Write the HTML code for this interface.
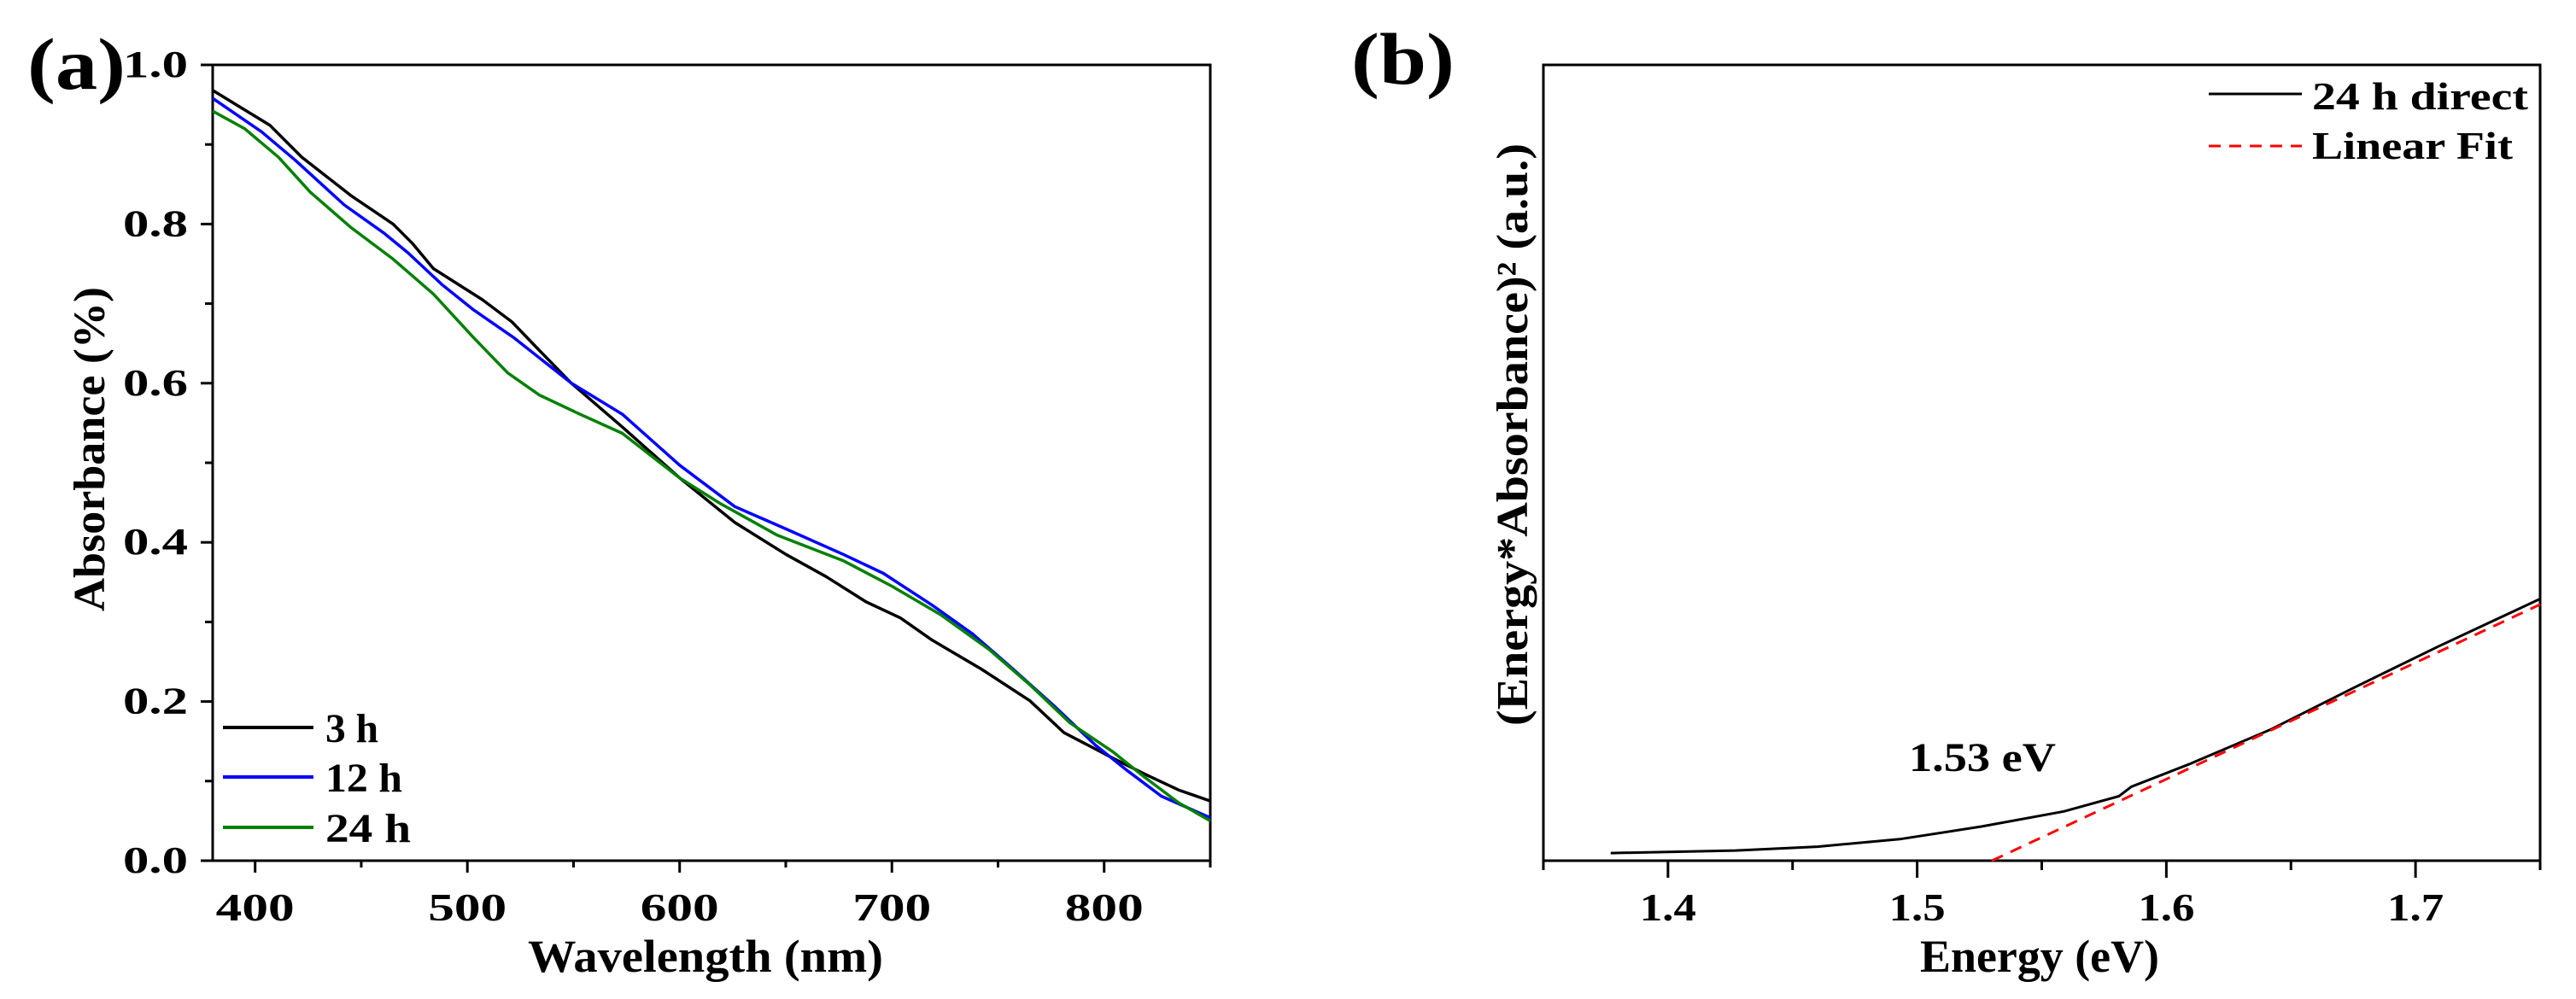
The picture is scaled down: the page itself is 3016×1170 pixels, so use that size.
<!DOCTYPE html>
<html><head><meta charset="utf-8"><style>
html,body{margin:0;padding:0;background:#fff;}
svg{display:block;font-family:"Liberation Serif",serif;font-weight:bold;}
</style></head><body>
<svg id="fig" width="3016" height="1170" viewBox="0 0 3016 1170" xmlns="http://www.w3.org/2000/svg">
<rect width="3016" height="1170" fill="#fff"/>
<g id="pa"></g>
<g id="pb"></g>
</svg>
<script>
// Panel (a) data
const aX3 = [380,407,422,445,465,474,484,507,521,534,549,573,600,626,650,669,688,704,719,742,765,781,804,819,835,850];
const aY3 = [0.968,0.924,0.884,0.836,0.800,0.776,0.744,0.705,0.677,0.641,0.600,0.545,0.481,0.425,0.385,0.357,0.325,0.305,0.277,0.241,0.201,0.161,0.129,0.109,0.089,0.075];
const aX12 = [380,403,419,442,461,472,488,503,522,549,573,600,626,650,677,696,719,738,757,777,796,811,827,850];
const aY12 = [0.958,0.916,0.880,0.824,0.788,0.764,0.724,0.692,0.657,0.600,0.561,0.497,0.445,0.417,0.385,0.361,0.321,0.285,0.241,0.193,0.145,0.113,0.081,0.054];
const aX24 = [380,395,411,426,445,465,484,503,519,534,553,573,600,619,646,677,700,723,746,765,784,804,819,835,850];
const aY24 = [0.942,0.920,0.884,0.840,0.796,0.756,0.712,0.657,0.613,0.585,0.561,0.537,0.481,0.449,0.409,0.377,0.345,0.309,0.265,0.221,0.173,0.137,0.105,0.073,0.050];
const aXTicks = [400,500,600,700,800];
const aYTicks = [0.0,0.2,0.4,0.6,0.8,1.0];
const aYTickLabels = ["0.0","0.2","0.4","0.6","0.8","1.0"];
const aSeriesNames = ["3 h","12 h","24 h"];
// Panel (b) data
const bX = [1.377,1.427,1.460,1.493,1.526,1.559,1.581,1.586,1.609,1.642,1.675,1.709,1.750];
const bY = [0.96,1.28,1.76,2.7,4.3,6.2,8.1,9.3,12.1,16.5,21.7,26.9,32.9];
const fitX = [1.53,1.75];
const fitY = [0,32.2];
const bXTicks = [1.4,1.5,1.6,1.7];
const bXTickLabels = ["1.4","1.5","1.6","1.7"];
const gapLabel = "1.53 eV";

const NS="http://www.w3.org/2000/svg";
function mk(parent,tag,attrs,text){const e=document.createElementNS(NS,tag);for(const k in attrs)e.setAttribute(k,attrs[k]);if(text!==undefined)e.textContent=text;parent.appendChild(e);return e;}
const fit=(w)=>({textLength:w,lengthAdjust:'spacingAndGlyphs'});

// ---------- Panel A ----------
const pa=document.getElementById('pa');
const A={l:249,r:1417,t:76,b:1008,x0:380,x1:850,y0:0,y1:1};
const ax=v=>A.l+(v-A.x0)/(A.x1-A.x0)*(A.r-A.l);
const ay=v=>A.b-(v-A.y0)/(A.y1-A.y0)*(A.b-A.t);
let e;
e=mk(pa,'text',Object.assign({x:32,y:104,'font-size':86},fit(115)),'(a)');


e=mk(pa,'rect',{x:A.l,y:A.t,width:A.r-A.l,height:A.b-A.t,fill:'none',stroke:'#000','stroke-width':3});


aXTicks.forEach(v=>{
  const x=ax(v);
  e=mk(pa,'line',{x1:x,y1:A.b,x2:x,y2:A.b+14,stroke:'#000','stroke-width':3});
  
  
  e=mk(pa,'text',Object.assign({x:x-46,y:1078,'font-size':46},fit(92)),String(v));
  
  
});
for(let v=450;v<=850;v+=100){const x=ax(v);e=mk(pa,'line',{x1:x,y1:A.b,x2:x,y2:A.b+8,stroke:'#000','stroke-width':3});

}
aYTicks.forEach((v,i)=>{
  const y=ay(v);
  e=mk(pa,'line',{x1:A.l-14,y1:y,x2:A.l,y2:y,stroke:'#000','stroke-width':3});
  
  
  e=mk(pa,'text',Object.assign({x:144,y:y+14,'font-size':44},fit(76)),aYTickLabels[i]);
  
  
});
for(let v=0.1;v<1;v+=0.2){const y=ay(v);e=mk(pa,'line',{x1:A.l-9,y1:y,x2:A.l,y2:y,stroke:'#000','stroke-width':3});

}
e=mk(pa,'text',Object.assign({x:618,y:1138,'font-size':54},fit(416)),'Wavelength (nm)');


e=mk(pa,'text',Object.assign({x:-190,y:0,'font-size':52,transform:'translate(122,526) rotate(-90)'},fit(380)),'Absorbance (%)');


const series=[[aX3,aY3,'#000','series-3h'],[aX12,aY12,'#0000ff','series-12h'],[aX24,aY24,'#008000','series-24h']];
series.forEach(([xs,ys,c,n])=>{
  const d=xs.map((x,i)=>(i?'L':'M')+ax(x).toFixed(1)+','+ay(ys[i]).toFixed(1)).join(' ');
  e=mk(pa,'path',{d:d,fill:'none',stroke:c,'stroke-width':3.5,'stroke-linejoin':'round'});
  
  
});
const legY=[852,910,969];
const legW=[62,90,100];
series.forEach(([xs,ys,c],i)=>{
  e=mk(pa,'line',{x1:261,y1:legY[i],x2:367,y2:legY[i],stroke:c,'stroke-width':4});
  
  
  e=mk(pa,'text',Object.assign({x:381,y:legY[i]+17,'font-size':48},fit(legW[i])),aSeriesNames[i]);
  
  
});

// ---------- Panel B ----------
const pb=document.getElementById('pb');
const B={l:1807,r:2974,t:76,b:1008,x0:1.35,x1:1.75,y0:0,y1:100};
const bx=v=>B.l+(v-B.x0)/(B.x1-B.x0)*(B.r-B.l);
const by=v=>B.b-(v-B.y0)/(B.y1-B.y0)*(B.b-B.t);
e=mk(pb,'text',Object.assign({x:1582,y:98,'font-size':86},fit(121)),'(b)');


e=mk(pb,'rect',{x:B.l,y:B.t,width:B.r-B.l,height:B.b-B.t,fill:'none',stroke:'#000','stroke-width':3});


bXTicks.forEach((v,i)=>{
  const x=bx(v);
  e=mk(pb,'line',{x1:x,y1:B.b,x2:x,y2:B.b+20,stroke:'#000','stroke-width':3});
  
  
  e=mk(pb,'text',Object.assign({x:x-33,y:1078,'font-size':46},fit(66)),bXTickLabels[i]);
  
  
});
[1.35,1.45,1.55,1.65,1.75].forEach(v=>{const x=bx(v);e=mk(pb,'line',{x1:x,y1:B.b,x2:x,y2:B.b+11,stroke:'#000','stroke-width':3});

});
e=mk(pb,'text',Object.assign({x:2248,y:1138,'font-size':54},fit(280)),'Energy (eV)');


e=mk(pb,'text',Object.assign({x:-341,y:0,'font-size':52,transform:'translate(1788,509) rotate(-90)'},fit(682)),'(Energy*Absorbance)² (a.u.)');


e=mk(pb,'path',{d:bX.map((x,i)=>(i?'L':'M')+bx(x).toFixed(1)+','+by(bY[i]).toFixed(1)).join(' '),fill:'none',stroke:'#000','stroke-width':3});


e=mk(pb,'line',{x1:bx(fitX[0]),y1:by(fitY[0]),x2:bx(fitX[1]),y2:by(fitY[1]),stroke:'#ff0000','stroke-width':3,'stroke-dasharray':'14 10'});


e=mk(pb,'text',Object.assign({x:2235,y:903,'font-size':48},fit(172)),gapLabel);


e=mk(pb,'line',{x1:2586,y1:110,x2:2695,y2:110,stroke:'#000','stroke-width':3});


e=mk(pb,'text',Object.assign({x:2707,y:128,'font-size':46},fit(253)),'24 h direct');


e=mk(pb,'line',{x1:2586,y1:171,x2:2695,y2:171,stroke:'#ff0000','stroke-width':3,'stroke-dasharray':'14 10'});


e=mk(pb,'text',Object.assign({x:2707,y:186,'font-size':46},fit(235)),'Linear Fit');


</script>
</body></html>
